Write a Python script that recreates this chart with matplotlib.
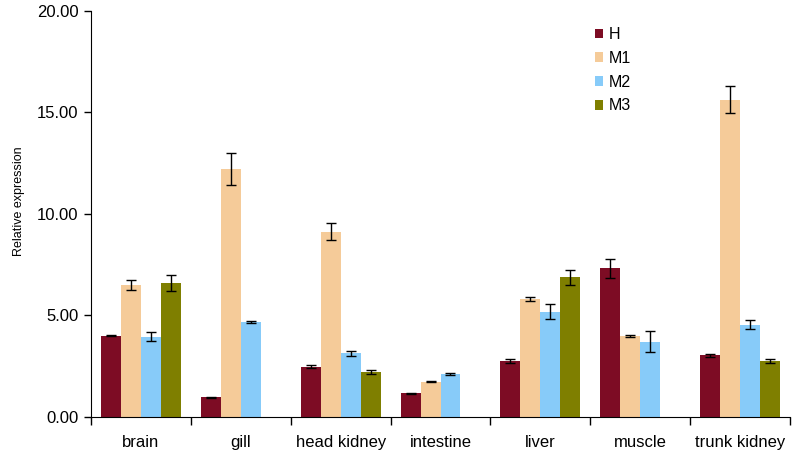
import numpy as np
import matplotlib; matplotlib.use("Agg")
import matplotlib.pyplot as plt

plt.rcParams["font.family"] = ["Liberation Sans", "DejaVu Sans"]

tissues = ["brain", "gill", "head kidney", "intestine", "liver", "muscle", "trunk kidney"]
groups = ["H", "M1", "M2", "M3"]
colors = ["#7d0c24", "#f5cb99", "#87cbf9", "#7f7f00"]

# mean values (nan = not measured)
H = [4.00, 0.97, 2.48, 1.17, 2.77, 7.32, 3.04]
M1 = [6.50, 12.20, 9.12, 1.74, 5.80, 4.00, 15.62]
M2 = [3.94, 4.68, 3.14, 2.12, 5.19, 3.71, 4.53]
M3 = [6.60, np.nan, 2.20, np.nan, 6.88, np.nan, 2.77]
# standard errors
H_err = [0.03, 0.03, 0.07, 0.02, 0.09, 0.47, 0.07]
M1_err = [0.23, 0.80, 0.41, 0.04, 0.10, 0.05, 0.67]
M2_err = [0.22, 0.06, 0.13, 0.03, 0.39, 0.52, 0.22]
M3_err = [0.38, np.nan, 0.10, np.nan, 0.38, np.nan, 0.09]

series = [(H, H_err), (M1, M1_err), (M2, M2_err), (M3, M3_err)]

fig = plt.figure(figsize=(7.94, 4.54), dpi=100)
ax = fig.add_axes([0.1146, 0.0815, 0.8804, 0.895])

x = np.arange(len(tissues)); w = 0.2
for i, ((vals, errs), name, c) in enumerate(zip(series, groups, colors)):
    v = np.array(vals); e = np.array(errs)
    ok = ~np.isnan(v)
    xs = x[ok] + (i - 1.5) * w
    ax.bar(xs, v[ok], w, color=c, label=name, zorder=2)
    ax.errorbar(xs, v[ok], yerr=e[ok], fmt="none", ecolor="black",
                elinewidth=1, capsize=3.5, capthick=1, zorder=3)

ax.set_xlim(-0.5, len(tissues) - 0.5); ax.set_ylim(0, 20)
ax.set_yticks(np.arange(0, 21, 5))
ax.set_yticklabels([f"{t:.2f}" for t in np.arange(0, 21, 5)], fontsize=12)
ax.set_xticks(x); ax.set_xticklabels(tissues, fontsize=12)
ax.tick_params(axis="x", which="major", length=0, pad=13)
ax.set_xticks(np.arange(-0.5, len(tissues)), minor=True)
ax.tick_params(axis="x", which="minor", length=6, width=1)
ax.tick_params(axis="y", length=5, width=1, pad=4)
ax.set_ylabel("Relative expression", fontsize=9)
ax.yaxis.set_label_coords(-0.095, 0.532)
for s in ["top", "right"]:
    ax.spines[s].set_visible(False)

ax.legend(loc="upper left", bbox_to_anchor=(0.70, 0.995), frameon=False, fontsize=11.5,
          handlelength=0.55, handleheight=0.55, handletextpad=0.35, labelspacing=0.55)

fig.savefig("out.png", dpi=100)
